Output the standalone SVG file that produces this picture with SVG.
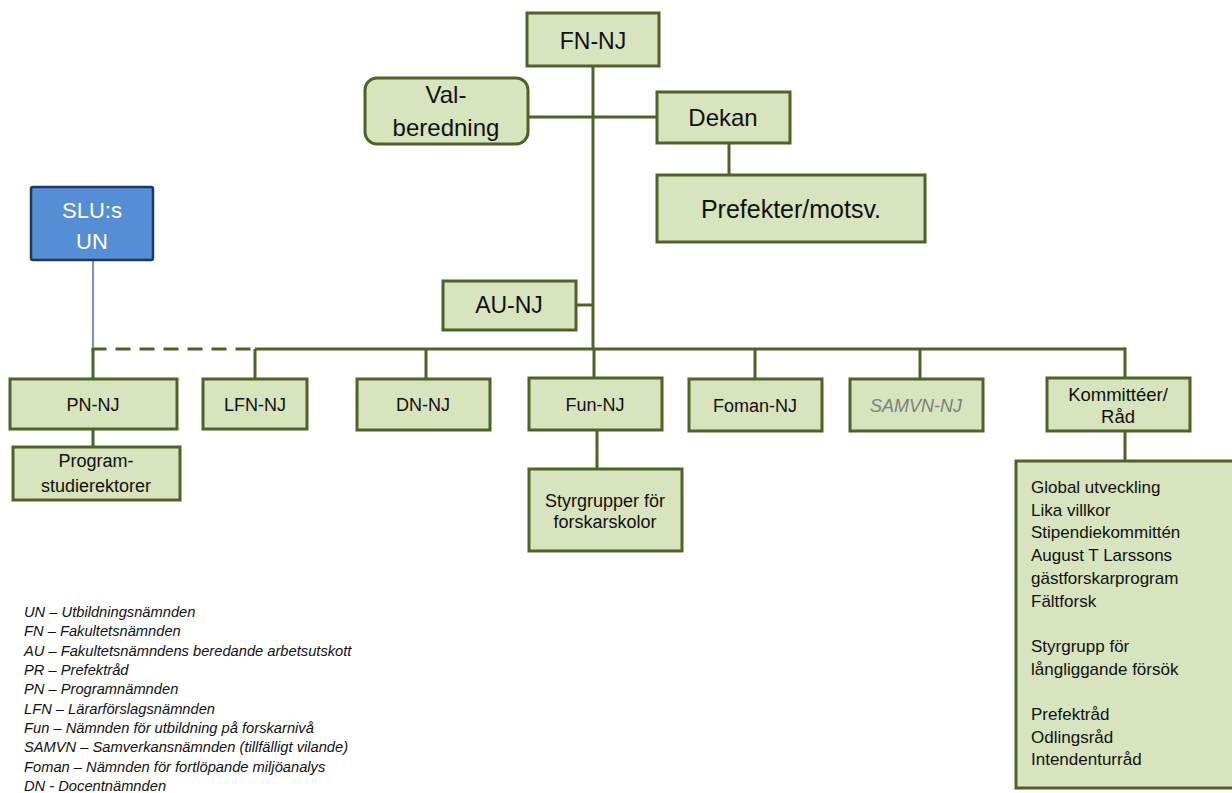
<svg xmlns="http://www.w3.org/2000/svg" width="1232" height="793" viewBox="0 0 1232 793">
<style>
.box{fill:#d7e4bd;stroke:#4f6228;stroke-width:3}
.blue{fill:#558ed5;stroke:#1f3864;stroke-width:2.5}
.t{font-family:"Liberation Sans",Arial,sans-serif;fill:#111;text-anchor:middle}
.tl{font-family:"Liberation Sans",Arial,sans-serif;fill:#111}
.c{stroke:#4f6228;stroke-width:3;fill:none}
.leg{font-family:"Liberation Sans",Arial,sans-serif;font-style:italic;font-size:14.7px;fill:#111}
</style>
<rect width="1232" height="793" fill="#ffffff"/>
<g id="connectors">
<line class="c" x1="593" y1="66" x2="593" y2="349"/>
<line class="c" x1="528" y1="117" x2="657" y2="117"/>
<line class="c" x1="729" y1="143" x2="729" y2="175"/>
<line class="c" x1="576" y1="305" x2="593" y2="305"/>
<line class="c" x1="255" y1="349" x2="1126" y2="349"/>
<line class="c" x1="91.5" y1="349" x2="255" y2="349" stroke-dasharray="15 9"/>
<line class="c" x1="93" y1="349" x2="93" y2="379"/>
<line class="c" x1="255" y1="349" x2="255" y2="379"/>
<line class="c" x1="426" y1="349" x2="426" y2="379"/>
<line class="c" x1="594" y1="349" x2="594" y2="378"/>
<line class="c" x1="755" y1="349" x2="755" y2="379"/>
<line class="c" x1="920" y1="349" x2="920" y2="379"/>
<line class="c" x1="1125" y1="347.5" x2="1125" y2="378"/>
<line class="c" x1="93" y1="429" x2="93" y2="447"/>
<line class="c" x1="597" y1="430" x2="597" y2="469"/>
<line class="c" x1="1125" y1="431" x2="1125" y2="461"/>
<line x1="93" y1="260" x2="93" y2="348" stroke="#4a72b0" stroke-width="1.5"/>
</g>
<g id="fn-nj"><rect class="box" x="527" y="13" width="132" height="53"/><text class="t" x="593" y="49" font-size="23">FN-NJ</text></g>
<g id="valberedning"><rect class="box" x="365" y="78" width="163" height="66" rx="12"/><text class="t" x="446" y="103" font-size="24">Val-</text><text class="t" x="446" y="136" font-size="24">beredning</text></g>
<g id="dekan"><rect class="box" x="657" y="92" width="133" height="51"/><text class="t" x="723" y="126" font-size="24">Dekan</text></g>
<g id="prefekter"><rect class="box" x="657" y="175" width="268" height="67"/><text class="t" x="791" y="218" font-size="25">Prefekter/motsv.</text></g>
<g id="au-nj"><rect class="box" x="443" y="281" width="133" height="49"/><text class="t" x="509" y="313" font-size="23">AU-NJ</text></g>
<g id="slu-un"><rect class="blue" x="31" y="187" width="122" height="73" rx="2"/><text class="t" x="92" y="218" font-size="22" style="fill:#ffffff">SLU:s</text><text class="t" x="92" y="249" font-size="22" style="fill:#ffffff">UN</text></g>
<g id="pn-nj"><rect class="box" x="10" y="379" width="167" height="50"/><text class="t" x="93" y="411" font-size="18">PN-NJ</text></g>
<g id="lfn-nj"><rect class="box" x="203" y="379" width="104" height="50"/><text class="t" x="255" y="411" font-size="18">LFN-NJ</text></g>
<g id="dn-nj"><rect class="box" x="357" y="379" width="133" height="51"/><text class="t" x="423" y="411" font-size="18">DN-NJ</text></g>
<g id="fun-nj"><rect class="box" x="529" y="378" width="133" height="52"/><text class="t" x="595" y="411" font-size="18">Fun-NJ</text></g>
<g id="foman-nj"><rect class="box" x="689" y="379" width="133" height="52"/><text class="t" x="755" y="412" font-size="18">Foman-NJ</text></g>
<g id="samvn-nj"><rect class="box" x="850" y="379" width="133" height="52"/><text class="t" x="916" y="412" font-size="18" font-style="italic" style="fill:#7f7f7f">SAMVN-NJ</text></g>
<g id="kommitteer"><rect class="box" x="1047" y="378" width="143" height="53"/><text class="t" x="1118" y="401" font-size="18.5">Kommittéer/</text><text class="t" x="1118" y="423" font-size="18.5">Råd</text></g>
<g id="programstudierektorer"><rect class="box" x="13" y="447" width="167" height="53"/><text class="t" x="96" y="467" font-size="18">Program-</text><text class="t" x="96" y="492" font-size="18">studierektorer</text></g>
<g id="styrgrupper"><rect class="box" x="529" y="469" width="153" height="82"/><text class="t" x="605" y="507" font-size="18">Styrgrupper för</text><text class="t" x="605" y="528" font-size="18">forskarskolor</text></g>
<g id="kommitteer-lista"><rect class="box" x="1016" y="461" width="230" height="327"/>
<text class="tl" font-size="17">
<tspan x="1031" y="493">Global utveckling</tspan>
<tspan x="1031" y="515.7">Lika villkor</tspan>
<tspan x="1031" y="538.4">Stipendiekommittén</tspan>
<tspan x="1031" y="561.1">August T Larssons</tspan>
<tspan x="1031" y="583.8">gästforskarprogram</tspan>
<tspan x="1031" y="606.5">Fältforsk</tspan>
<tspan x="1031" y="651.9">Styrgrupp för</tspan>
<tspan x="1031" y="674.6">långliggande försök</tspan>
<tspan x="1031" y="720">Prefektråd</tspan>
<tspan x="1031" y="742.7">Odlingsråd</tspan>
<tspan x="1031" y="765.4">Intendenturråd</tspan>
</text></g>
<g id="legend">
<text class="leg">
<tspan x="24" y="617">UN – Utbildningsnämnden</tspan>
<tspan x="24" y="636.3">FN – Fakultetsnämnden</tspan>
<tspan x="24" y="655.7">AU – Fakultetsnämndens beredande arbetsutskott</tspan>
<tspan x="24" y="675">PR – Prefektråd</tspan>
<tspan x="24" y="694.3">PN – Programnämnden</tspan>
<tspan x="24" y="713.7">LFN – Lärarförslagsnämnden</tspan>
<tspan x="24" y="733">Fun – Nämnden för utbildning på forskarnivå</tspan>
<tspan x="24" y="752.3">SAMVN – Samverkansnämnden (tillfälligt vilande)</tspan>
<tspan x="24" y="771.7">Foman – Nämnden för fortlöpande miljöanalys</tspan>
<tspan x="24" y="791">DN - Docentnämnden</tspan>
</text></g>
</svg>
